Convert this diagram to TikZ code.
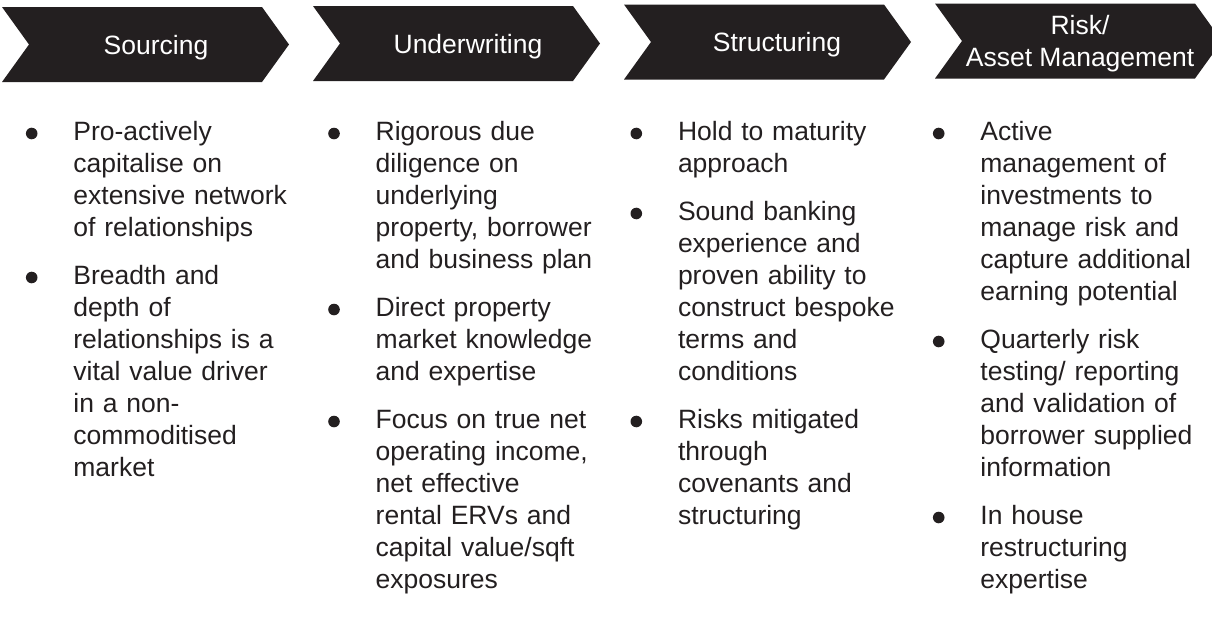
\documentclass[tikz,border=0pt]{standalone}
\usepackage{fontspec}
\setmainfont{Liberation Sans}
\usepackage{tikz}
\usetikzlibrary{positioning}
\definecolor{ink}{HTML}{231F20}
\tikzset{
  head/.style={text=white, anchor=base, inner sep=0pt, font=\fontsize{13.25}{16}\selectfont},
  point/.style={text=ink, anchor=base west, inner sep=0pt, text width=125pt, align=left, font=\fontsize{13.25}{16}\selectfont},
  bul/.style={circle, fill=ink, inner sep=0pt, minimum size=5.8pt}
}

\begin{document}
\begin{tikzpicture}[x=0.5pt, y=-0.5pt]
  \useasboundingbox (0,0) rectangle (1212,617);

  \newcommand\chev[2]{\fill[ink] (#1,#2) -- ++(260,0) -- ++(27,37.5) -- ++(-27,37.5) -- ++(-260,0) -- ++(27,-37.5) -- cycle;}

  \chev{2}{7}
  \chev{313}{6}
  \chev{624}{4.5}
  \chev{935}{3.5}

  \node[head] (sourcing) at (156, 54) {Sourcing};
  \node[head] (underwriting) at (468, 53) {Underwriting};
  \node[head] (structuring) at (777, 51.5) {Structuring};
  \node[head, anchor=center, align=center] (riskmgmt) at (1080, 43.5) {Risk/\\Asset Management};

  \node[point] (s1) at (73, 140) {Pro-actively\\capitalise on\\extensive network\\of relationships};
  \node[point] (s2) at (73, 284) {Breadth and\\depth of\\relationships is a\\vital value driver\\in a non-\\commoditised\\market};

  \node[point] (u1) at (375.3, 140) {Rigorous due\\diligence on\\underlying\\property, borrower\\and business plan};
  \node[point] (u2) at (375.3, 316) {Direct property\\market knowledge\\and expertise};
  \node[point] (u3) at (375.3, 428) {Focus on true net\\operating income,\\net effective\\rental ERVs and\\capital value/sqft\\exposures};

  \node[point] (t1) at (677.6, 140) {Hold to maturity\\approach};
  \node[point] (t2) at (677.6, 220) {Sound banking\\experience and\\proven ability to\\construct bespoke\\terms and\\conditions};
  \node[point] (t3) at (677.6, 428) {Risks mitigated\\through\\covenants and\\structuring};

  \node[point] (r1) at (980, 140) {Active\\management of\\investments to\\manage risk and\\capture additional\\earning potential};
  \node[point] (r2) at (980, 348) {Quarterly risk\\testing/ reporting\\and validation of\\borrower supplied\\information};
  \node[point] (r3) at (980, 524) {In house\\restructuring\\expertise};

  \node[bul] (bs1) at ([shift={(-41.3,-6.5)}]s1.base west) {};
  \node[bul] (bs2) at ([shift={(-41.3,-6.5)}]s2.base west) {};
  \node[bul] (bu1) at ([shift={(-41.3,-6.5)}]u1.base west) {};
  \node[bul] (bu2) at ([shift={(-41.3,-6.5)}]u2.base west) {};
  \node[bul] (bu3) at ([shift={(-41.3,-6.5)}]u3.base west) {};
  \node[bul] (bt1) at ([shift={(-41.3,-6.5)}]t1.base west) {};
  \node[bul] (bt2) at ([shift={(-41.3,-6.5)}]t2.base west) {};
  \node[bul] (bt3) at ([shift={(-41.3,-6.5)}]t3.base west) {};
  \node[bul] (br1) at ([shift={(-41.3,-6.5)}]r1.base west) {};
  \node[bul] (br2) at ([shift={(-41.3,-6.5)}]r2.base west) {};
  \node[bul] (br3) at ([shift={(-41.3,-6.5)}]r3.base west) {};
\end{tikzpicture}
\end{document}
